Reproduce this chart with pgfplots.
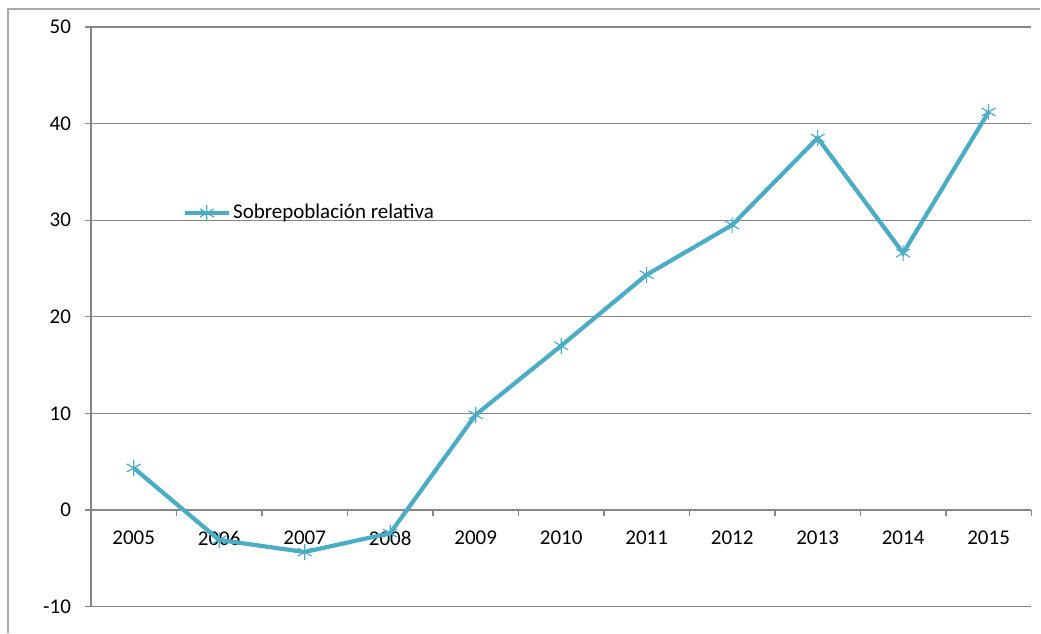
\documentclass[border=0pt]{standalone}
\usepackage{pgfplots}
\pgfplotsset{compat=1.18}
\usepackage{fontspec}
\setmainfont{Carlito}

\definecolor{serie}{HTML}{4BACC6}
\definecolor{rejilla}{HTML}{868686}

\begin{document}
\begin{tikzpicture}
\begin{axis}[
  name=ax,
  scale only axis,
  width=470.5pt,
  height=290pt,
  font=\fontsize{10.5pt}{12pt}\selectfont,
  xmin=-0.5, xmax=10.5,
  ymin=-10, ymax=50,
  axis x line=middle,
  axis y line=left,
  axis line style={-, rejilla, line width=0.65pt},
  tick align=outside,
  xtick={0,...,10},
  xticklabels={2005,2006,2007,2008,2009,2010,2011,2012,2013,2014,2015},
  major x tick style={draw=none},
  minor xtick={-0.5,0.5,...,10.5},
  minor tick length=3pt,
  minor x tick style={rejilla, line width=0.65pt},
  xticklabel style={yshift=-4pt},
  ytick={-10,0,...,50},
  major tick length=3pt,
  y tick style={rejilla, line width=0.65pt},
  yticklabel style={xshift=-3.5pt},
  ymajorgrids=true,
  grid style={rejilla, line width=0.65pt},
  /pgf/number format/assume math mode=true,
  clip=false,
  legend style={at={(0.097,0.679)}, anchor=west, draw=none, fill=none,
    font=\fontsize{10.5pt}{12pt}\selectfont, inner sep=0pt,
    nodes={inner xsep=1pt}},
  legend image code/.code={\draw[mark repeat=2,mark phase=2,#1] plot coordinates {(0cm,0cm) (0.39cm,0cm) (0.78cm,0cm)};},
]
\addplot[serie, line width=2.1pt, mark=asterisk, mark size=4pt,
  mark options={line width=0.6pt}] coordinates {
  (0,4.35) (1,-3.1) (2,-4.35) (3,-2.4) (4,9.85) (5,17.0)
  (6,24.35) (7,29.5) (8,38.5) (9,26.6) (10,41.2)
};
\addlegendentry{Sobrepoblación relativa}
\end{axis}
\draw[rejilla!70, line width=0.65pt]
  ([shift={(-41.5pt,-13pt)}]ax.south west) -- ([shift={(-41.5pt,9pt)}]ax.north west)
  -- ([shift={(4.5pt,9pt)}]ax.north east);
\useasboundingbox ([shift={(-45.5pt,-13pt)}]ax.south west) rectangle ([shift={(4.5pt,13.5pt)}]ax.north east);
\end{tikzpicture}
\end{document}
